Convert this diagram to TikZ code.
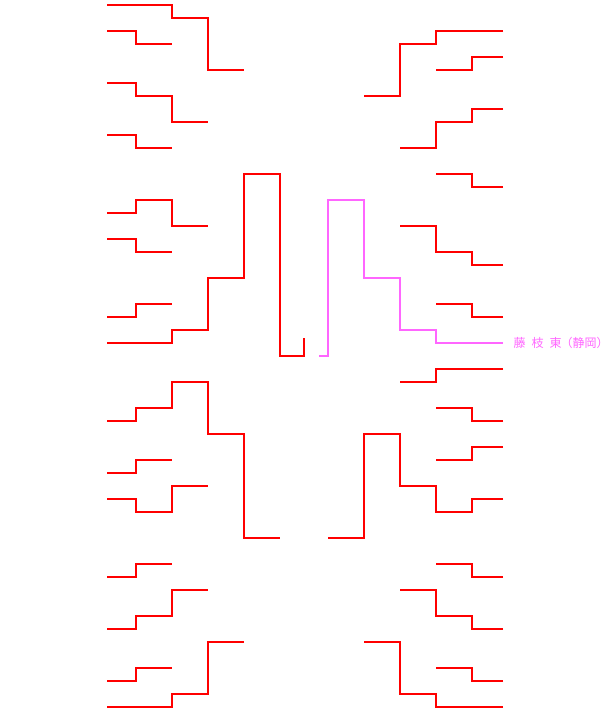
\documentclass[tikz,border=0pt]{standalone}
\usepackage{fontspec}
\newfontfamily\jpfont{Noto Sans CJK JP}
\usetikzlibrary{positioning}
\definecolor{winpink}{RGB}{255,102,255}

\begin{document}
\begin{tikzpicture}[
         x=1pt, y=-1pt,
         team/.style = {draw=red, line width=2pt},
         champion/.style = {draw=winpink, line width=2pt},
         teamlabel/.style = {text=winpink, font=\jpfont\fontsize{12pt}{12pt}\selectfont,
         inner sep=0pt, anchor=base west}
]
      \useasboundingbox (0,0) rectangle (609,713);

      % left half
      \draw[team] (107,5) -- (172,5) |- (208,18) |- (244,70);
      \draw[team] (107,31) -- (136,31) |- (172,44);
      \draw[team] (107,83) -- (136,83) |- (172,96) |- (208,122);
      \draw[team] (107,135) -- (136,135) |- (172,148);
      \draw[team] (107,213) -- (136,213) |- (172,200) |- (208,226);
      \draw[team] (107,239) -- (136,239) |- (172,252);
      \draw[team] (107,317) -- (136,317) |- (172,304);
      \draw[team] (107,343) -- (172,343) |- (208,330) |- (244,278)
                  |- (280,174) |- (304,356) -- (304,338);
      \draw[team] (107,421) -- (136,421) |- (172,408) |- (208,382)
                  |- (244,434) |- (280,538);
      \draw[team] (107,473) -- (136,473) |- (172,460);
      \draw[team] (107,499) -- (136,499) |- (172,512) |- (208,486);
      \draw[team] (107,577) -- (136,577) |- (172,564);
      \draw[team] (107,629) -- (136,629) |- (172,616) |- (208,590);
      \draw[team] (107,681) -- (136,681) |- (172,668);
      \draw[team] (107,707) -- (172,707) |- (208,694) |- (244,642);

      % right half
      \draw[team] (503,31) -- (436,31) |- (400,44) |- (364,96);
      \draw[team] (503,57) -- (472,57) |- (436,70);
      \draw[team] (503,109) -- (472,109) |- (436,122) |- (400,148);
      \draw[team] (503,187) -- (472,187) |- (436,174);
      \draw[team] (503,265) -- (472,265) |- (436,252) |- (400,226);
      \draw[team] (503,317) -- (472,317) |- (436,304);
      \draw[team] (503,369) -- (436,369) |- (400,382);
      \draw[team] (503,421) -- (472,421) |- (436,408);
      \draw[team] (503,447) -- (472,447) |- (436,460);
      \draw[team] (503,499) -- (472,499) |- (436,512) |- (400,486)
                  |- (364,434) |- (328,538);
      \draw[team] (503,577) -- (472,577) |- (436,564);
      \draw[team] (503,629) -- (472,629) |- (436,616) |- (400,590);
      \draw[team] (503,681) -- (472,681) |- (436,668);
      \draw[team] (503,707) -- (436,707) |- (400,694) |- (364,642);

      % winner
      \draw[champion] (503,343) -- (436,343) |- (400,330) |- (364,278)
                  |- (328,200) |- (319,356);
      \node[teamlabel] (winner) at (513.5,347.5)
         {藤\hspace{6pt}枝\hspace{6pt}東\makebox[11pt][r]{（}静岡\makebox[5pt][l]{）}};
\end{tikzpicture}
\end{document}
